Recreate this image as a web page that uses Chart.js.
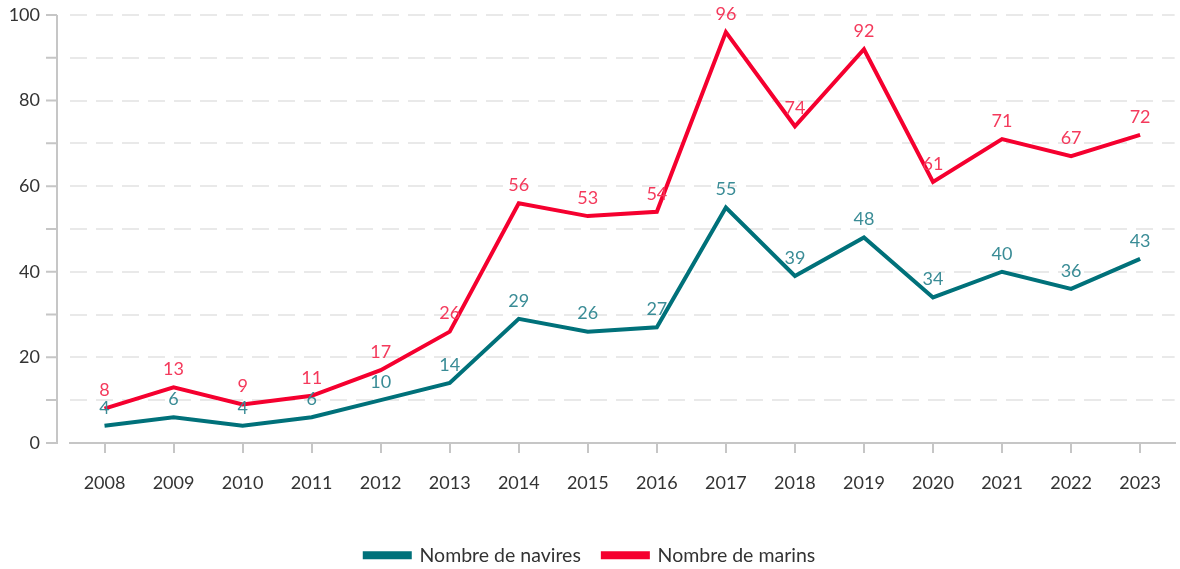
<!DOCTYPE html>
<html>
<head>
<meta charset="utf-8">
<script src="https://cdn.jsdelivr.net/npm/chart.js@4"></script>
<style>
  html, body { margin: 0; padding: 0; background: #fff; }
  #wrap { position: relative; width: 1180px; height: 569px; }
</style>
</head>
<body>
<div id="wrap"><canvas id="chartMarins"></canvas></div>
<script>
'use strict';

const years = ['2008', '2009', '2010', '2011', '2012', '2013', '2014', '2015',
  '2016', '2017', '2018', '2019', '2020', '2021', '2022', '2023'];
const navires = [4, 6, 4, 6, 10, 14, 29, 26, 27, 55, 39, 48, 34, 40, 36, 43];
const marins = [8, 13, 9, 11, 17, 26, 56, 53, 54, 96, 74, 92, 61, 71, 67, 72];

const FONT = 'Lato, "Open Sans", sans-serif';
const AXIS_GREY = '#c6c6c6';

// value labels above every point
const pointLabels = {
  id: 'pointLabels',
  afterDatasetsDraw(chart) {
    const ctx = chart.ctx;
    ctx.save();
    ctx.font = '400 18px ' + FONT;
    ctx.textAlign = 'center';
    ctx.textBaseline = 'middle';
    chart.data.datasets.forEach((ds, i) => {
      const meta = chart.getDatasetMeta(i);
      ctx.fillStyle = ds.labelColor;
      meta.data.forEach((pt, j) => {
        ctx.fillText(String(ds.data[j]), pt.x, pt.y - 18);
      });
    });
    ctx.restore();
  }
};

// y axis line sits a bit left of the plot area, with ticks every 10
const detachedYAxis = {
  id: 'detachedYAxis',
  afterDraw(chart) {
    const ctx = chart.ctx;
    const y = chart.scales.y;
    const x0 = chart.chartArea.left - 13;
    ctx.save();
    ctx.strokeStyle = AXIS_GREY;
    ctx.lineWidth = 2;
    ctx.beginPath();
    ctx.moveTo(x0, y.getPixelForValue(100));
    ctx.lineTo(x0, y.getPixelForValue(0) + 1);
    y.ticks.forEach(t => {
      const py = y.getPixelForValue(t.value);
      ctx.moveTo(x0 - 11, py);
      ctx.lineTo(x0, py);
    });
    ctx.stroke();
    ctx.restore();
  }
};

// pull the legend a little closer to the bottom edge
const legendTight = {
  id: 'legendTight',
  beforeInit(chart) {
    const legend = chart.legend;
    if (!legend) return;
    const fit = legend.fit;
    legend.fit = function () {
      fit.call(this);
      this.height -= 6;
    };
  }
};

const config = {
  type: 'line',
  data: {
    labels: years,
    datasets: [{
      label: 'Nombre de navires',
      data: navires,
      borderColor: '#00717a',
      backgroundColor: '#00717a',
      labelColor: '#3a8c96',
      borderWidth: 4,
      pointRadius: 0,
      tension: 0,
      fill: false
    }, {
      label: 'Nombre de marins',
      data: marins,
      borderColor: '#f5002f',
      backgroundColor: '#f5002f',
      labelColor: '#f43a5c',
      borderWidth: 4,
      pointRadius: 0,
      tension: 0,
      fill: false
    }]
  },
  options: {
    responsive: true,
    maintainAspectRatio: false,
    animation: false,
    layout: { padding: { top: 15, right: 0, left: 0, bottom: 0 } },
    plugins: {
      legend: {
        position: 'bottom',
        labels: {
          boxWidth: 45,
          boxHeight: 4,
          padding: 22,
          color: '#333',
          font: { family: FONT, size: 19.5, weight: '400' }
        }
      },
      tooltip: { enabled: false }
    },
    scales: {
      x: {
        offset: true,
        afterFit(scale) { scale.height += 11; },
        grid: {
          offset: false,
          drawOnChartArea: false,
          drawTicks: true,
          tickLength: 10,
          color: AXIS_GREY,
          lineWidth: 2
        },
        border: { display: true, color: AXIS_GREY, width: 2 },
        ticks: {
          padding: 19,
          color: '#333',
          maxRotation: 0,
          font: { family: FONT, size: 18, weight: '400' }
        }
      },
      y: {
        min: 0,
        max: 100,
        afterFit(scale) {
          scale.width = 70;
          scale.paddingTop = 0;
          scale.paddingBottom = 0;
        },
        grid: {
          drawTicks: false,
          color: '#e9e9e9',
          lineWidth: 2
        },
        border: { display: false, dash: [17, 9] },
        ticks: {
          stepSize: 10,
          padding: 30,
          color: '#333',
          font: { family: FONT, size: 18, weight: '400' },
          callback: v => (v % 20 === 0 ? v : '')
        }
      }
    }
  },
  plugins: [pointLabels, detachedYAxis, legendTight]
};

new Chart(document.getElementById('chartMarins'), config);
</script>
</body>
</html>
